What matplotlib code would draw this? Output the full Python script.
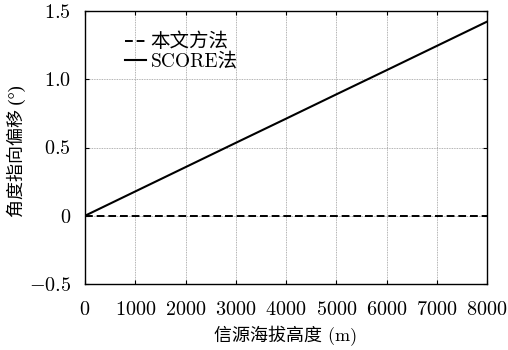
import numpy as np
import matplotlib
matplotlib.use("Agg")
import matplotlib.pyplot as plt

plt.rcParams['font.family'] = ['cmr10', 'Noto Sans CJK SC', 'DejaVu Sans']
plt.rcParams['mathtext.fontset'] = 'cm'
plt.rcParams['axes.unicode_minus'] = False

# altitude of the source (m) and pointing offset (deg)
altitude = [0, 1000, 2000, 3000, 4000, 5000, 6000, 7000, 8000]
offset_ours = [0, 0, 0, 0, 0, 0, 0, 0, 0]
offset_score = [0, 0.178, 0.356, 0.534, 0.711, 0.889, 1.066, 1.244, 1.422]

xticks = [0, 1000, 2000, 3000, 4000, 5000, 6000, 7000, 8000]
yticks = [-0.5, 0, 0.5, 1.0, 1.5]
ytick_labels = ['$-0.5$', '$0$', '$0.5$', '$1.0$', '$1.5$']

fig = plt.figure(figsize=(5.08, 3.5), dpi=100)
ax = fig.add_axes([85/508, 1 - 284/350, 402/508, 273/350])

ax.plot(altitude, offset_ours, 'k--', lw=1.4, dashes=(4, 2), label='本文方法')
ax.plot(altitude, offset_score, 'k-', lw=1.5, label='SCORE法')

ax.set_xlim(0, 8000)
ax.set_ylim(-0.5, 1.5)
ax.set_xticks(xticks)
ax.set_xticklabels(['$%d$' % v for v in xticks])
ax.set_yticks(yticks)
ax.set_yticklabels(ytick_labels)
ax.tick_params(labelsize=14.5, direction='in', length=3, width=0.8,
               right=True, top=True)
ax.tick_params(axis='x', pad=12)
ax.tick_params(axis='y', pad=10)
ax.grid(True, color='#999999', linestyle=(0, (1, 1)), lw=0.6)

for s in ax.spines.values():
    s.set_linewidth(1.0)

ax.set_xlabel('信源海拔高度 (m)', fontsize=13, labelpad=5)
# cmr10 has no degree sign, so this label takes a Times-like serif
ax.set_ylabel('角度指向偏移 (°)', fontsize=13,
              family=['Liberation Serif', 'Noto Sans CJK SC'])
ax.yaxis.set_label_coords(-0.148, 0.485)

ax.legend(loc='upper left', bbox_to_anchor=(0.1, 0.92), frameon=False,
          fontsize=14, handlelength=1.05, handletextpad=0.25,
          labelspacing=0.08, borderaxespad=0, borderpad=0)

fig.savefig('out.png', dpi=100)
